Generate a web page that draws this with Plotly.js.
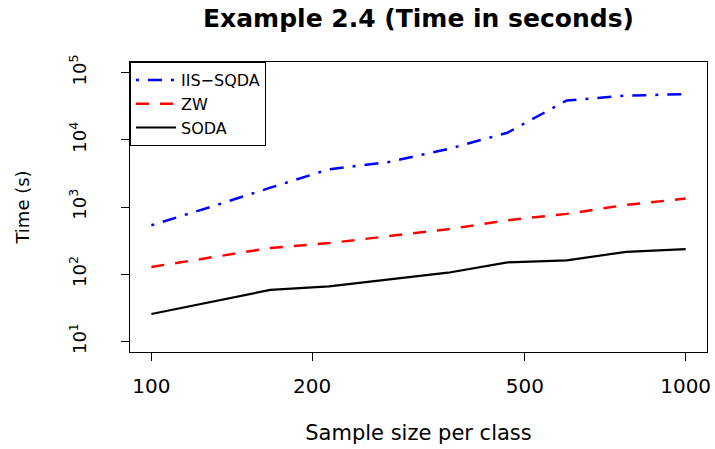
<!DOCTYPE html>
<html>
<head>
<meta charset="utf-8">
<script src="https://cdn.plot.ly/plotly-3.0.1.min.js"></script>
<style>html,body{margin:0;padding:0;background:#fff;}#chart{width:715px;height:449px;}</style>
</head>
<body>
<div id="chart"></div>
<script>
const sampleSize = [100, 129, 167, 215, 278, 359, 464, 599, 774, 1000];
const iisSqda = [535, 1000, 1940, 3640, 4670, 7300, 12780, 38700, 45600, 48000];
const zw = [128, 178, 245, 290, 370, 465, 635, 790, 1075, 1335];
const soda = [25.5, 38.3, 58.2, 65.9, 83.5, 105, 150, 160, 215, 235];
const seriesNames = ["IIS\u2212SQDA", "ZW", "SODA"];
const xTickVals = [100, 200, 500, 1000];
const xTickText = ["100", "200", "500", "1000"];
const yTickVals = [10, 100, 1000, 10000, 100000];
const yTickText = ["10<sup>1</sup>", "10<sup>2</sup>", "10<sup>3</sup>", "10<sup>4</sup>", "10<sup>5</sup>"];

const font = "DejaVu Sans, Liberation Sans, Arial, sans-serif";
const traces = [
  {x: sampleSize, y: iisSqda, name: seriesNames[0], mode: "lines",
   line: {color: "#0000ff", width: 2.5, dash: "3px,9px,14px,9px"}},
  {x: sampleSize, y: zw, name: seriesNames[1], mode: "lines",
   line: {color: "#ff0000", width: 2.5, dash: "13px,11px"}},
  {x: sampleSize, y: soda, name: seriesNames[2], mode: "lines",
   line: {color: "#000000", width: 2.2}}
];
const layout = {
  width: 715, height: 449,
  margin: {l: 130, r: 8, t: 62, b: 97},
  paper_bgcolor: "#fff", plot_bgcolor: "#fff",
  font: {family: font, color: "#000", size: 18},
  showlegend: true,
  title: {text: "<b>Example 2.4 (Time in seconds)</b>", x: 0.5, xref: "paper", xanchor: "center",
          y: 0.96, yanchor: "middle", yref: "container",
          font: {family: font, size: 25, color: "#000"}},
  legend: {x: 0, y: 1, xanchor: "left", yanchor: "top", xref: "paper", yref: "paper",
           bordercolor: "#000", borderwidth: 1, bgcolor: "#fff",
           font: {family: font, size: 16, color: "#000"}, tracegroupgap: 0,
           itemwidth: 40},
  xaxis: {type: "log", range: [Math.log10(100) - 0.04, Math.log10(1000) + 0.04],
          tickvals: xTickVals, ticktext: xTickText, ticks: "outside", ticklen: 8,
          tickwidth: 1, tickcolor: "#000", showgrid: false, zeroline: false,
          showline: true, mirror: true, linecolor: "#000", linewidth: 1,
          ticklabelstandoff: 8, tickfont: {size: 20},
          title: {text: "Sample size per class", standoff: 28, font: {size: 21}},
          automargin: false},
  yaxis: {type: "log", range: [1 - 0.16, 5 + 0.16],
          tickvals: yTickVals, ticktext: yTickText, ticks: "outside", ticklen: 8,
          tickwidth: 1, tickcolor: "#000", showgrid: false, zeroline: false,
          showline: true, mirror: true, linecolor: "#000", linewidth: 1,
          tickangle: -90, ticklabelstandoff: 28, tickfont: {size: 18},
          title: {text: "Time (s)", standoff: 31, font: {size: 18}},
          automargin: false}
};
Plotly.newPlot("chart", traces, layout, {staticPlot: true, displayModeBar: false});
</script>
</body>
</html>
